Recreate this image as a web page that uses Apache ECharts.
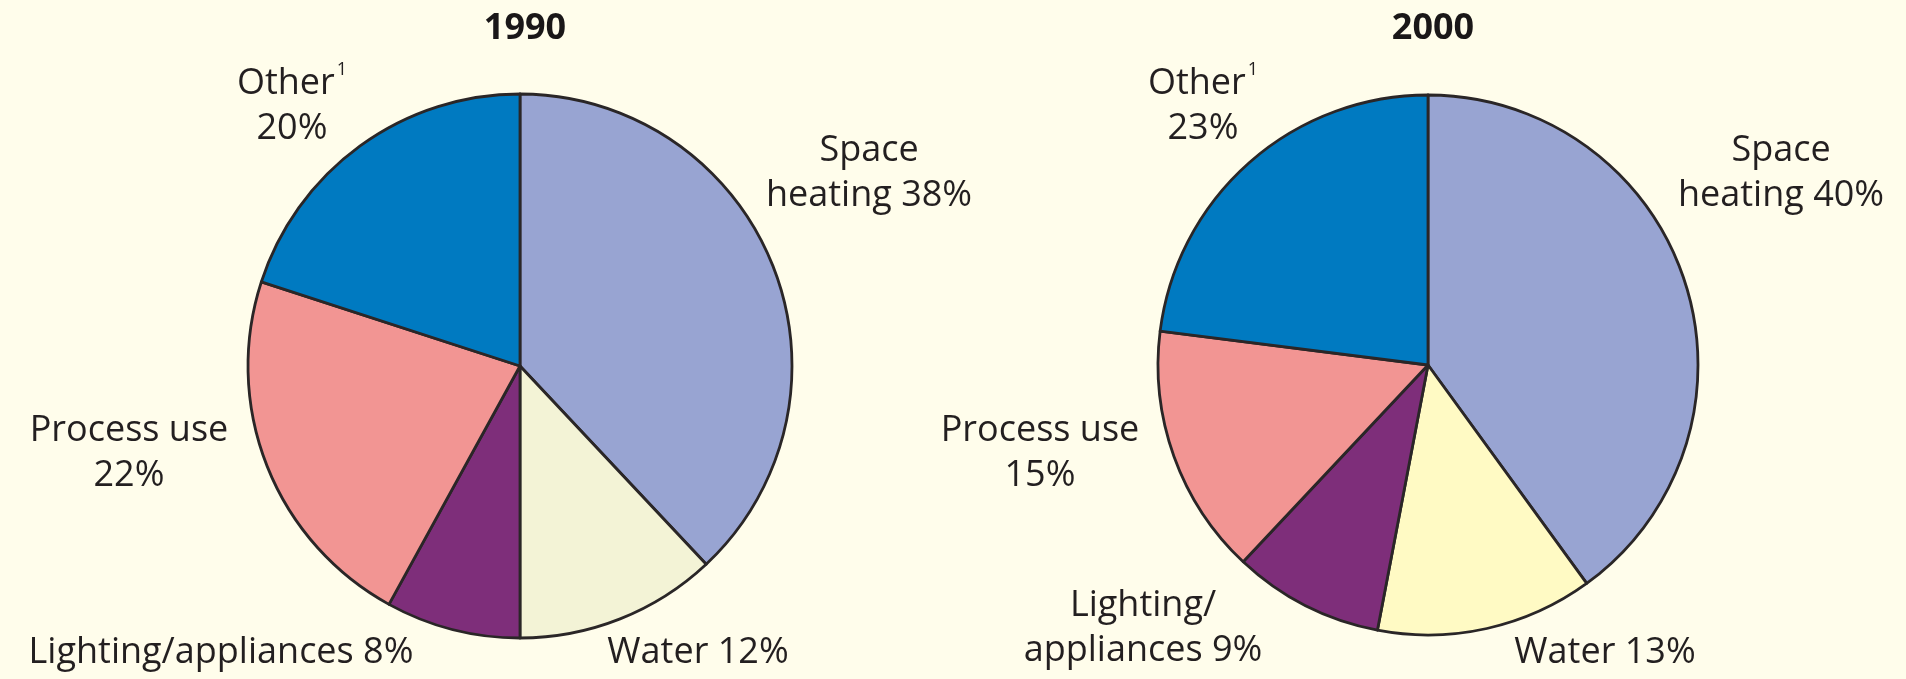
<!DOCTYPE html>
<html>
<head>
<meta charset="utf-8">
<title>Energy use 1990 / 2000</title>
<script src="https://cdn.jsdelivr.net/npm/echarts@6/dist/echarts.min.js"></script>
<style>
  html, body { margin: 0; padding: 0; background: #fffdeb; }
  #chart { width: 1906px; height: 679px; }
</style>
</head>
<body>
<div id="chart"></div>
<script>
  // data
  var years = ["1990", "2000"];
  var categories = ["Space heating", "Water", "Lighting/appliances", "Process use", "Other"];
  var values1990 = [38, 12, 8, 22, 20];
  var values2000 = [40, 13, 9, 15, 23];
  // label text before the value (line breaks differ per year)
  var labels1990 = ["Space\nheating ", "Water ", "Lighting/appliances ", "Process use\n", "Other{sup|1}\n"];
  var labels2000 = ["Space\nheating ", "Water ", "Lighting/\nappliances ", "Process use\n", "Other{sup|1}\n"];

  var colors = ["#98a4d2", "#f3f3d6", "#7e2e7a", "#f29593", "#007ac1"];
  var waterColor2000 = "#fffac4";

  var centers = [[520, 366], [1428, 365]];
  var radii = [272, 270];
  // label block centres, offset from each pie centre
  var labelOffsets = [
    [[349, -193], [178, 287], [-299, 287], [-391, 87], [-228, -260]],
    [[353, -192], [177, 288], [-285, 263], [-388, 88], [-225, -259]]
  ];

  var chart = echarts.init(document.getElementById("chart"));

  function buildData(values, labels, yearIndex) {
    return categories.map(function (name, i) {
      var color = colors[i];
      if (yearIndex === 1 && i === 1) {
        color = waterColor2000;
      }
      return {
        name: name,
        value: values[i],
        itemStyle: {color: color},
        label: {formatter: labels[i] + values[i] + "%"}
      };
    });
  }

  function makeSeries(values, labels, idx) {
    return {
      type: "pie",
      center: centers[idx],
      radius: radii[idx],
      startAngle: 90,
      clockwise: true,
      animation: false,
      silent: true,
      itemStyle: {
        borderColor: "#2a2627",
        borderWidth: 2.8
      },
      label: {
        show: true,
        position: "outside",
        overflow: "none",
        color: "#231f20",
        fontFamily: "Open Sans",
        fontSize: 36,
        lineHeight: 45,
        align: "center",
        rich: {
          sup: {
            fontFamily: "Open Sans",
            fontSize: 18,
            color: "#231f20",
            verticalAlign: "top",
            lineHeight: 45,
            padding: [0, 0, 18, 2]
          }
        }
      },
      labelLine: {show: false},
      labelLayout: function (params) {
        var off = labelOffsets[idx][params.dataIndex];
        return {
          x: centers[idx][0] + off[0],
          y: centers[idx][1] + off[1],
          align: "center",
          verticalAlign: "middle",
          hideOverlap: false
        };
      },
      data: buildData(values, labels, idx)
    };
  }

  chart.setOption({
    backgroundColor: "#fffdeb",
    title: years.map(function (y, i) {
      return {
        text: y,
        left: centers[i][0],
        top: 6,
        textAlign: "center",
        textStyle: {
          fontFamily: "Open Sans",
          fontSize: 36,
          fontWeight: "bold",
          color: "#1a1718"
        }
      };
    }),
    series: [
      makeSeries(values1990, labels1990, 0),
      makeSeries(values2000, labels2000, 1)
    ]
  });
</script>
</body>
</html>
